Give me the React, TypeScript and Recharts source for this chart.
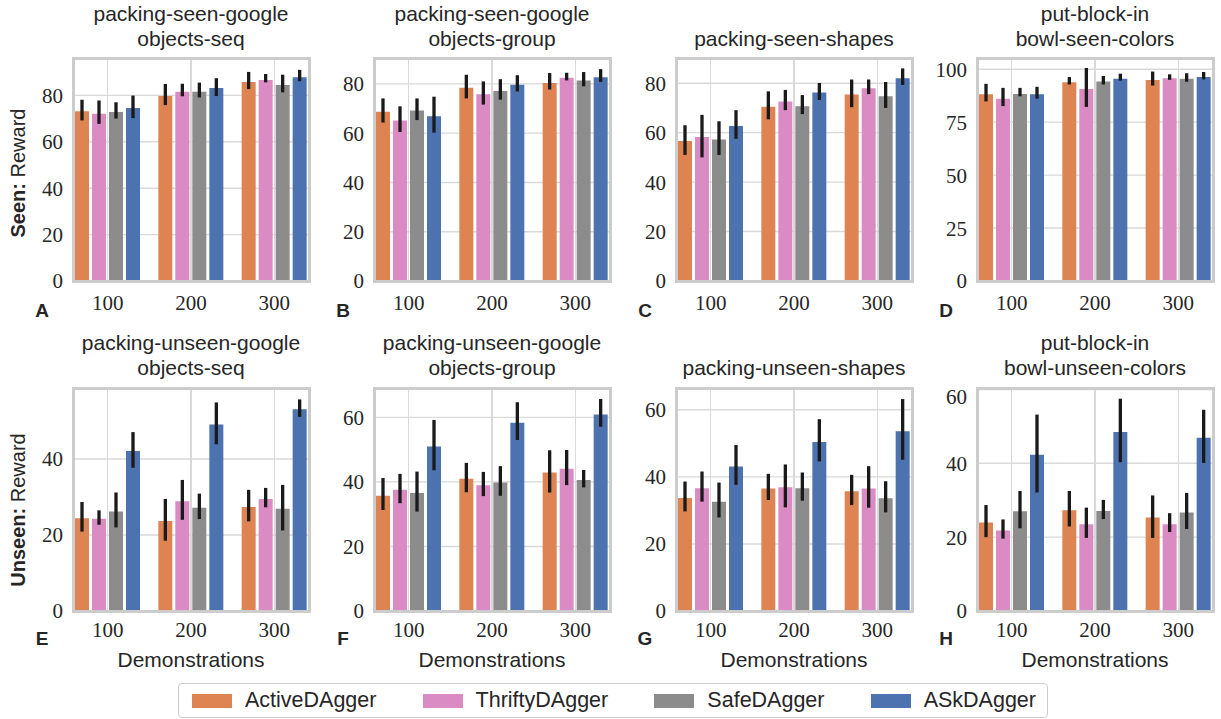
import React from "react";
import { BarChart, Bar, XAxis, YAxis, CartesianGrid, ErrorBar } from "recharts";

const demos = ["100", "200", "300"];
const methods = ["ActiveDAgger", "ThriftyDAgger", "SafeDAgger", "ASkDAgger"];
const colors = ["#DD8452", "#DA8BC3", "#8C8C8C", "#4C72B0"];

// rows = method, columns = 100 / 200 / 300 demonstrations
// A: packing-seen-google-objects-seq
const seenSeqMean = [[73.1, 79.7, 85.8], [72.1, 81.6, 86.6], [72.8, 81.6, 84.5], [74.5, 83.2, 87.8]];
const seenSeqLow = [[69.2, 75.8, 82.7], [67.7, 79.6, 85.6], [70.0, 79.1, 81.3], [70.2, 79.7, 86.1]];
const seenSeqHigh = [[78.1, 84.9, 90.1], [77.8, 85.0, 89.2], [77.0, 85.5, 88.9], [79.9, 87.4, 91.0]];

// B: packing-seen-google-objects-group
const seenGroupMean = [[68.7, 78.4, 80.4], [65.1, 75.8, 82.5], [69.2, 77.1, 81.4], [66.9, 79.6, 82.7]];
const seenGroupLow = [[64.3, 74.1, 77.7], [60.5, 71.6, 81.4], [65.3, 73.6, 79.0], [60.2, 76.9, 80.8]];
const seenGroupHigh = [[74.1, 83.7, 84.4], [70.9, 81.0, 84.5], [74.1, 81.9, 84.8], [74.8, 83.5, 86.0]];

// C: packing-seen-shapes
const seenShapesMean = [[56.6, 70.5, 75.4], [58.2, 72.6, 78.0], [57.2, 70.7, 74.7], [62.7, 76.2, 82.0]];
const seenShapesLow = [[51.0, 65.4, 70.3], [50.0, 69.1, 75.6], [51.0, 67.5, 70.0], [57.5, 73.2, 79.3]];
const seenShapesHigh = [[63.0, 76.7, 81.5], [67.2, 77.3, 81.5], [64.6, 75.2, 80.5], [69.1, 80.1, 86.0]];

// D: put-block-in-bowl-seen-colors
const seenBowlMean = [[88.2, 93.9, 94.9], [86.1, 90.7, 95.7], [88.3, 94.2, 95.5], [88.2, 95.5, 96.3]];
const seenBowlLow = [[84.8, 92.8, 92.3], [82.6, 82.2, 95.0], [87.2, 92.8, 94.1], [86.1, 94.6, 95.2]];
const seenBowlHigh = [[93.1, 96.3, 98.9], [91.2, 100.6, 97.6], [91.2, 96.8, 98.1], [91.7, 97.9, 98.7]];

// E: packing-unseen-google-objects-seq
const unseenSeqMean = [[24.4, 23.7, 27.4], [24.3, 28.9, 29.5], [26.2, 27.2, 26.9], [42.1, 49.1, 53.1]];
const unseenSeqLow = [[20.9, 18.5, 23.6], [22.7, 24.0, 27.3], [22.0, 24.2, 21.2], [37.7, 43.9, 51.1]];
const unseenSeqHigh = [[28.7, 29.5, 31.9], [26.5, 34.5, 32.4], [31.2, 30.9, 33.2], [47.1, 54.9, 55.7]];

// F: packing-unseen-google-objects-group
const unseenGroupMean = [[35.7, 41.0, 42.9], [37.6, 39.0, 44.1], [36.6, 39.8, 40.6], [51.0, 58.3, 60.9]];
const unseenGroupLow = [[31.3, 36.8, 36.7], [33.4, 35.6, 39.0], [30.8, 35.7, 38.3], [43.6, 53.0, 57.1]];
const unseenGroupHigh = [[41.2, 45.9, 49.8], [42.5, 43.1, 49.9], [43.2, 44.9, 43.7], [59.2, 64.7, 65.7]];

// G: packing-unseen-shapes
const unseenShapesMean = [[33.7, 36.5, 35.7], [36.6, 36.9, 36.5], [32.6, 36.6, 33.6], [43.1, 50.4, 53.6]];
const unseenShapesLow = [[29.7, 33.1, 31.6], [32.6, 30.9, 30.8], [27.9, 32.9, 29.4], [37.6, 44.6, 45.1]];
const unseenShapesHigh = [[38.6, 40.9, 40.6], [41.6, 43.7, 43.2], [38.3, 41.3, 38.7], [49.5, 57.2, 63.2]];

// H: put-block-in-bowl-unseen-colors
const unseenBowlMean = [[24.0, 27.3, 25.3], [21.8, 23.5, 23.5], [27.0, 27.1, 26.7], [42.3, 48.5, 46.9]];
const unseenBowlLow = [[20.0, 22.9, 19.8], [19.6, 19.8, 21.4], [22.4, 24.9, 22.2], [32.1, 40.3, 40.1]];
const unseenBowlHigh = [[28.7, 32.5, 31.3], [24.8, 28.0, 26.5], [32.5, 30.1, 32.0], [53.2, 57.5, 54.5]];

const ticks80 = [0, 20, 40, 60, 80];
const ticks100 = [0, 25, 50, 75, 100];
const ticks40 = [0, 20, 40];
const ticks60 = [0, 20, 40, 60];

const SANS = "'Liberation Sans', Arial, sans-serif";
const SERIF = "'Liberation Serif', 'Times New Roman', serif";
const TEXT = "#262626";
const GRID = "#d9d9d9";
const FRAME_COLOR = "#cccccc";

const PLOT_W = 236;
const PLOT_H = 223;
const AXIS_W = 60;
const AXIS_H = 70;
const PAD = 4;
const X_PAD = -7;
const COLS = [73, 374, 676, 977];
const ROWS = [58, 388];

const panels = [
  { letter: "A", title: ["packing-seen-google", "objects-seq"], mean: seenSeqMean, low: seenSeqLow, high: seenSeqHigh, yMax: 96.1, ticks: ticks80 },
  { letter: "B", title: ["packing-seen-google", "objects-group"], mean: seenGroupMean, low: seenGroupLow, high: seenGroupHigh, yMax: 90.5, ticks: ticks80 },
  { letter: "C", title: ["packing-seen-shapes"], mean: seenShapesMean, low: seenShapesLow, high: seenShapesHigh, yMax: 90.2, ticks: ticks80 },
  { letter: "D", title: ["put-block-in", "bowl-seen-colors"], mean: seenBowlMean, low: seenBowlLow, high: seenBowlHigh, yMax: 105.3, ticks: ticks100 },
  { letter: "E", title: ["packing-unseen-google", "objects-seq"], mean: unseenSeqMean, low: unseenSeqLow, high: unseenSeqHigh, yMax: 58.7, ticks: ticks40 },
  { letter: "F", title: ["packing-unseen-google", "objects-group"], mean: unseenGroupMean, low: unseenGroupLow, high: unseenGroupHigh, yMax: 69.1, ticks: ticks60 },
  { letter: "G", title: ["packing-unseen-shapes"], mean: unseenShapesMean, low: unseenShapesLow, high: unseenShapesHigh, yMax: 66.5, ticks: ticks60 },
  { letter: "H", title: ["put-block-in", "bowl-unseen-colors"], mean: unseenBowlMean, low: unseenBowlLow, high: unseenBowlHigh, yMax: 60.4, ticks: ticks60 },
];

// centre of each category band, same maths as the padded band scale of the x axis
const bandStep = (PLOT_W - 2 * X_PAD) / demos.length;
const bandMid = demos.map((_, i) => X_PAD + (i + 0.5) * bandStep);

function Panel({ p, left, top, row }: any) {
  const rows = demos.map((d, i) => {
    const r: any = { demo: d };
    methods.forEach((m, k) => {
      r[m] = p.mean[k][i];
      r[m + "_err"] = [p.mean[k][i] - p.low[k][i], p.high[k][i] - p.mean[k][i]];
    });
    return r;
  });
  const n = p.title.length;
  const titleTop = top - 33 + (row === 0 ? 1 : 0) - (n - 1) * 25;

  return (
    <>
      <div
        style={{
          position: "absolute", left: left - 10, top: titleTop, width: PLOT_W + 20,
          textAlign: "center", fontFamily: SANS, fontSize: 21, lineHeight: "25px", color: TEXT,
          whiteSpace: "nowrap",
        }}
      >
        {p.title.map((t: string) => <div key={t}>{t}</div>)}
      </div>
      <div
        style={{
          position: "absolute", left: left - 46, top: top + PLOT_H + (row === 0 ? 18 : 16), width: 30,
          textAlign: "center", fontFamily: SANS, fontSize: 19, fontWeight: 700, lineHeight: "24px", color: TEXT,
        }}
      >
        {p.letter}
      </div>
      {/* vertical grid lines, painted before the chart so the bars sit on top */}
      {bandMid.map((mx, i) => (
        <div
          key={demos[i]}
          style={{ position: "absolute", left: left + mx - 0.7, top, width: 1.4, height: PLOT_H, background: GRID }}
        />
      ))}
      <div style={{ position: "absolute", left: left - AXIS_W, top: top - PAD }}>
        <BarChart
          width={AXIS_W + PLOT_W + PAD}
          height={PAD + PLOT_H + AXIS_H}
          data={rows}
          margin={{ top: PAD, right: PAD, bottom: 0, left: 0 }}
          barSize={14}
          barGap={3}
        >
          <CartesianGrid stroke={GRID} strokeWidth={1.4} vertical={false} />
          <XAxis
            dataKey="demo"
            type="category"
            allowDuplicatedCategory={false}
            height={AXIS_H}
            padding={{ left: X_PAD, right: X_PAD }}
            tickLine={false}
            tickSize={0}
            tickMargin={row === 0 ? 14 : 11}
            axisLine={false}
            tick={{ fontFamily: SERIF, fontSize: 21, fill: TEXT }}
            label={row === 1 ? { value: "Demonstrations", position: "insideBottom", offset: 14, fontFamily: SANS, fontSize: 21, fill: TEXT } : undefined}
          />
          <YAxis
            width={AXIS_W}
            type="number"
            domain={[0, p.yMax]}
            ticks={p.ticks}
            allowDataOverflow
            tickLine={false}
            tickSize={0}
            tickMargin={10}
            axisLine={false}
            tick={{ fontFamily: SERIF, fontSize: 21, fill: TEXT }}
          />
          {methods.map((m, k) => (
            <Bar key={m} dataKey={m} fill={colors[k]} isAnimationActive={false}>
              <ErrorBar dataKey={m + "_err"} width={0} stroke="#1a1a1a" strokeWidth={3.3} direction="y" isAnimationActive={false} />
            </Bar>
          ))}
        </BarChart>
      </div>
      {/* axes frame (seaborn whitegrid spines) */}
      <div
        style={{
          position: "absolute", left: left - 1.5, top: top - 1.5, width: PLOT_W + 3, height: PLOT_H + 3,
          boxSizing: "border-box", border: `3px solid ${FRAME_COLOR}`, pointerEvents: "none",
        }}
      />
    </>
  );
}

function YLabel({ cy, bold }: { cy: number; bold: string }) {
  return (
    <div
      style={{
        position: "absolute", left: 18 - 150, top: cy - 12, width: 300, height: 24, lineHeight: "24px",
        textAlign: "center", transform: "rotate(-90deg)", fontFamily: SANS, fontSize: 20, color: TEXT,
        whiteSpace: "nowrap",
      }}
    >
      <b>{bold}</b> Reward
    </div>
  );
}

export default function App() {
  return (
    <div
      style={{
        position: "absolute", left: 0, top: 0, width: 1221, height: 719,
        background: "#fff", overflow: "hidden",
      }}
    >
      {panels.map((p, i) => (
        <Panel key={p.letter} p={p} left={COLS[i % 4]} top={ROWS[Math.floor(i / 4)]} row={Math.floor(i / 4)} />
      ))}
      <YLabel cy={173} bold="Seen:" />
      <YLabel cy={510} bold="Unseen:" />
      <div
        style={{
          position: "absolute", left: 178, top: 683, width: 870, height: 35, boxSizing: "border-box",
          border: `1.5px solid ${FRAME_COLOR}`, borderRadius: 4, background: "#fff",
          display: "flex", alignItems: "center", justifyContent: "space-between",
          padding: "0 11px 0 13px", fontFamily: SANS, fontSize: 21.5, color: TEXT,
        }}
      >
        {methods.map((m, k) => (
          <div key={m} style={{ display: "flex", alignItems: "center" }}>
            <span style={{ display: "inline-block", width: 40, height: 14, background: colors[k], marginRight: 13 }} />
            <span>{m}</span>
          </div>
        ))}
      </div>
    </div>
  );
}
